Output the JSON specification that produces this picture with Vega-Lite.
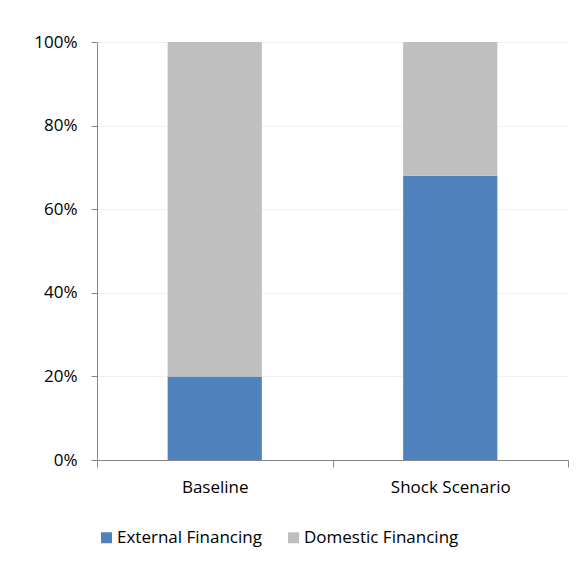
{
  "$schema": "https://vega.github.io/schema/vega-lite/v6.json",
  "autosize": "none",
  "width": 471,
  "height": 418,
  "padding": {"left": 97, "top": 42, "right": 19, "bottom": 109},
  "background": "white",
  "data": {
    "values": [
      {"scenario": "Baseline", "series": "External Financing", "share": 0.20},
      {"scenario": "Baseline", "series": "Domestic Financing", "share": 0.80},
      {"scenario": "Shock Scenario", "series": "External Financing", "share": 0.68},
      {"scenario": "Shock Scenario", "series": "Domestic Financing", "share": 0.32}
    ]
  },
  "mark": {"type": "bar", "width": {"band": 0.4}},
  "encoding": {
    "x": {
      "field": "scenario",
      "type": "nominal",
      "sort": ["Baseline", "Shock Scenario"],
      "scale": {"paddingInner": 0, "paddingOuter": 0},
      "axis": {
        "title": null,
        "labelAngle": 0,
        "tickBand": "extent",
        "domainColor": "#868686",
        "tickColor": "#868686",
        "tickSize": 7,
        "labelPadding": 12,
        "labelFont": "Open Sans",
        "labelFontSize": 17,
        "labelColor": "#000000",
        "grid": false
      }
    },
    "y": {
      "field": "share",
      "type": "quantitative",
      "stack": "zero",
      "scale": {"domain": [0, 1], "nice": false},
      "axis": {
        "title": null,
        "values": [0, 0.2, 0.4, 0.6, 0.8, 1],
        "format": ".0%",
        "domainColor": "#868686",
        "tickColor": "#868686",
        "tickSize": 6,
        "labelPadding": 14,
        "labelFont": "Open Sans",
        "labelFontSize": 17,
        "labelColor": "#000000",
        "grid": true,
        "gridColor": "#F0F0F0"
      }
    },
    "color": {
      "field": "series",
      "type": "nominal",
      "scale": {"domain": ["External Financing", "Domestic Financing"], "range": ["#4F81BD", "#BFBFBF"]},
      "legend": {
        "title": null,
        "orient": "none",
        "direction": "horizontal",
        "legendX": 1,
        "legendY": 487,
        "symbolType": "square",
        "symbolSize": 121,
        "symbolStrokeWidth": 0,
        "labelFont": "Open Sans",
        "labelFontSize": 17,
        "labelColor": "#000000",
        "labelOffset": 2,
        "columnPadding": 23
      }
    },
    "order": {"field": "series", "sort": "descending"}
  },
  "config": {"view": {"stroke": null}}
}
